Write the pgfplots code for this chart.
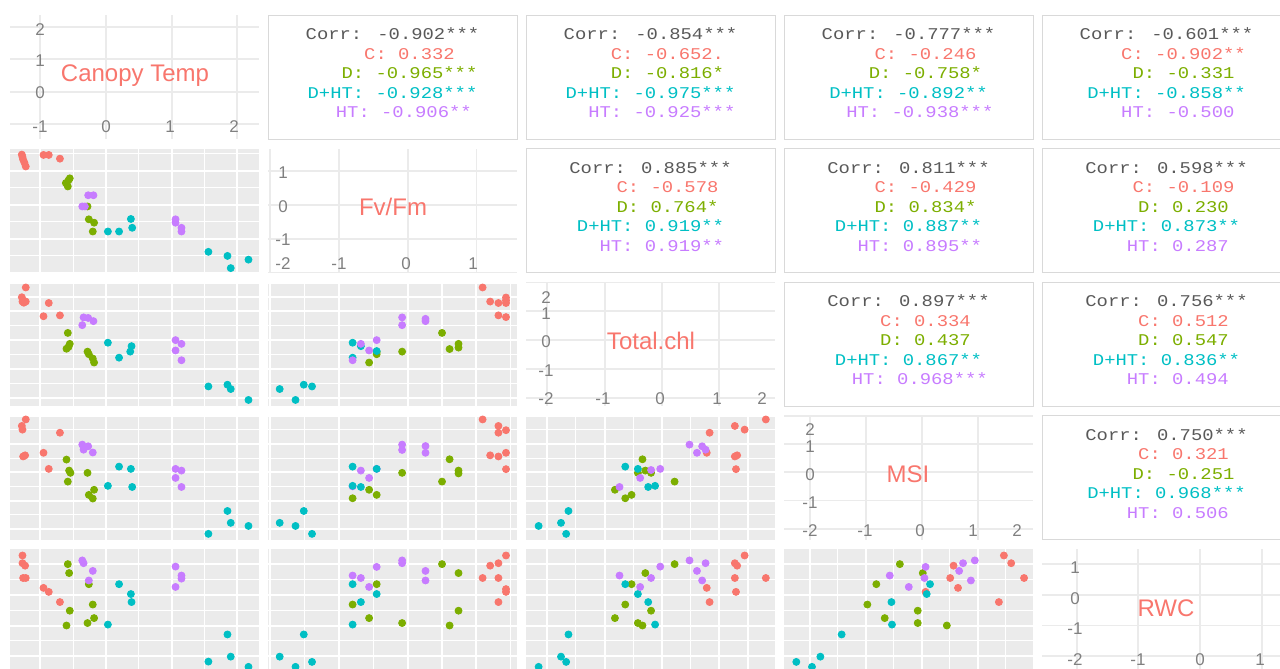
\documentclass[border=0pt]{standalone}
\usepackage{fontspec}
\setmainfont{Liberation Sans}
\newfontfamily\mono[FakeStretch=1.15]{Liberation Mono}
\usepackage{pgfplots}
\pgfplotsset{compat=1.18}
\definecolor{cC}{HTML}{F8766D}
\definecolor{cD}{HTML}{7CAE00}
\definecolor{cDHT}{HTML}{00BFC4}
\definecolor{cHT}{HTML}{C77CFF}
\definecolor{bg}{HTML}{EBEBEB}
\definecolor{dgrid}{HTML}{EBEBEB}
\definecolor{tickc}{HTML}{808080}
\definecolor{ctitle}{HTML}{595959}
\definecolor{cborder}{HTML}{D9D9D9}
\pgfplotsset{
  base/.style={scale only axis, width=124.5pt, height=62pt, anchor=north west,
    axis line style={draw=none}, tick style={draw=none},
    xticklabels={}, yticklabels={},
    xtick={-2,-1,0,1,2}, ytick={-2,-1,0,1,2}},
  sc/.style={base, axis background/.style={fill=bg}, grid=both,
    minor xtick={-2.5,-1.5,-0.5,0.5,1.5,2.5}, minor ytick={-2.5,-1.5,-0.5,0.5,1.5,2.5},
    major grid style={white, line width=1pt}, minor grid style={white, line width=0.55pt}},
  dg/.style={base, grid=major, major grid style={dgrid, line width=0.9pt}},
  pC/.style={only marks, mark=*, mark size=1.75pt, color=cC, mark options={fill=cC, draw=cC}},
  pD/.style={only marks, mark=*, mark size=1.75pt, color=cD, mark options={fill=cD, draw=cD}},
  pDHT/.style={only marks, mark=*, mark size=1.75pt, color=cDHT, mark options={fill=cDHT, draw=cDHT}},
  pHT/.style={only marks, mark=*, mark size=1.75pt, color=cHT, mark options={fill=cHT, draw=cHT}},
}
\tikzset{
  tk/.style={font=\fontsize{8.5}{10}\selectfont, text=tickc, anchor=base, inner sep=0pt},
  vl/.style={font=\fontsize{12}{14}\selectfont, text=cC, anchor=base, inner sep=0pt},
  ct/.style={font=\mono\fontsize{8.2}{10}\selectfont, anchor=base, inner sep=0pt},
}
% corr panel: #1 left px, #2 top px, #3 title value, #4 C, #5 D, #6 D+HT, #7 HT
\newcommand{\corrpanel}[7]{%
  \draw[cborder, line width=0.5pt] (#1,#2) rectangle ++(249,124);
  \node[ct, text=ctitle] at ({#1+124.5},{#2+18.5+6}) {Corr: #3};
  \node[ct, text=cC] at ({#1+124.5},{#2+38+6}) {\hphantom{xxx}C: #4};
  \node[ct, text=cD] at ({#1+124.5},{#2+57.5+6}) {\hphantom{xxx}D: #5};
  \node[ct, text=cDHT] at ({#1+124.5},{#2+77+6}) {D+HT: #6};
  \node[ct, text=cHT] at ({#1+124.5},{#2+96.5+6}) {\hphantom{xx}HT: #7};
}
\begin{document}
\begin{tikzpicture}
\path[use as bounding box] (0,0) rectangle (640pt,-334.5pt);

% ---------- diagonal panels ----------
\begin{axis}[dg, at={(5pt,-7.5pt)}, xmin=-1.46, xmax=2.33, ymin=-1.46, ymax=2.36]
\end{axis}
\begin{axis}[dg, at={(134pt,-74.25pt)}, xmin=-2.03, xmax=1.59, ymin=-2.0, ymax=1.66]
\end{axis}
\begin{axis}[dg, at={(263pt,-141pt)}, xmin=-2.37, xmax=1.97, ymin=-2.29, ymax=2.02]
\end{axis}
\begin{axis}[dg, at={(392pt,-207.75pt)}, xmin=-2.46, xmax=1.99, ymin=-2.38, ymax=2.01]
\end{axis}
\begin{axis}[dg, at={(521pt,-274.5pt)}, xmin=-2.56, xmax=1.47, ymin=-2.54, ymax=1.48]
\end{axis}

% ---------- scatter panels ----------
% Fv/Fm vs Canopy Temp
\begin{axis}[sc, at={(5pt,-74.25pt)}, xmin=-1.46, xmax=2.33, ymin=-2.0, ymax=1.66]
\addplot[pC] coordinates {(-1.28,1.48)(-1.27,1.41)(-1.26,1.33)(-1.24,1.24)(-1.22,1.13)(-0.95,1.47)(-0.87,1.47)(-0.70,1.36)};
\addplot[pD] coordinates {(-0.55,0.78)(-0.57,0.72)(-0.61,0.64)(-0.58,0.54)(-0.28,-0.05)(-0.26,-0.43)(-0.18,-0.53)(-0.20,-0.79)};
\addplot[pDHT] coordinates {(0.03,-0.79)(0.20,-0.79)(0.38,-0.42)(0.40,-0.68)(1.56,-1.39)(1.85,-1.51)(1.90,-1.87)(2.17,-1.62)};
\addplot[pHT] coordinates {(-0.27,0.28)(-0.19,0.28)(-0.36,-0.05)(-0.32,-0.05)(1.06,-0.43)(1.06,-0.53)(1.15,-0.68)(1.15,-0.79)};
\end{axis}
% Total.chl vs Canopy Temp
\begin{axis}[sc, at={(5pt,-141pt)}, xmin=-1.46, xmax=2.33, ymin=-2.29, ymax=2.02]
\addplot[pC] coordinates {(-1.22,1.83)(-1.28,1.49)(-1.27,1.34)(-1.25,1.30)(-1.22,1.34)(-0.87,1.29)(-0.95,0.83)(-0.70,0.86)};
\addplot[pD] coordinates {(-0.58,0.25)(-0.55,-0.13)(-0.60,-0.30)(-0.57,-0.24)(-0.28,-0.40)(-0.26,-0.49)(-0.20,-0.64)(-0.18,-0.78)};
\addplot[pDHT] coordinates {(0.03,-0.09)(0.20,-0.61)(0.39,-0.21)(0.37,-0.40)(1.56,-1.61)(1.85,-1.55)(1.90,-1.70)(2.17,-2.08)};
\addplot[pHT] coordinates {(-0.34,0.79)(-0.27,0.77)(-0.19,0.66)(-0.36,0.52)(1.06,0)(1.15,-0.13)(1.06,-0.36)(1.15,-0.70)};
\end{axis}
% MSI vs Canopy Temp
\begin{axis}[sc, at={(5pt,-207.75pt)}, xmin=-1.46, xmax=2.33, ymin=-2.38, ymax=2.01]
\addplot[pC] coordinates {(-1.22,1.87)(-1.28,1.64)(-1.27,1.51)(-0.70,1.40)(-1.26,0.56)(-1.23,0.60)(-0.95,0.69)(-0.87,0.12)};
\addplot[pD] coordinates {(-0.60,0.45)(-0.56,0.06)(-0.54,-0.02)(-0.28,-0.02)(-0.58,-0.33)(-0.18,-0.62)(-0.26,-0.80)(-0.20,-0.93)};
\addplot[pDHT] coordinates {(0.20,0.20)(0.38,0.12)(0.03,-0.48)(0.40,-0.52)(1.85,-1.37)(1.90,-1.79)(2.17,-1.90)(1.56,-2.18)};
\addplot[pHT] coordinates {(-0.36,0.98)(-0.27,0.92)(-0.34,0.80)(-0.20,0.70)(1.06,0.12)(1.15,0.06)(1.06,-0.20)(1.15,-0.52)};
\end{axis}
% RWC vs Canopy Temp
\begin{axis}[sc, at={(5pt,-274.5pt)}, xmin=-1.46, xmax=2.33, ymin=-2.54, ymax=1.48]
\addplot[pC] coordinates {(-1.27,1.27)(-1.27,1.02)(-1.23,0.94)(-1.26,0.54)(-1.22,0.54)(-0.95,0.22)(-0.87,0.09)(-0.70,-0.24)};
\addplot[pD] coordinates {(-0.58,0.99)(-0.56,0.70)(-0.26,0.34)(-0.20,-0.32)(-0.55,-0.52)(-0.18,-0.76)(-0.28,-0.92)(-0.60,-1.00)};
\addplot[pDHT] coordinates {(0.20,0.34)(0.38,0.02)(0.39,-0.24)(0.03,-0.97)(1.85,-1.29)(1.90,-2.01)(1.56,-2.17)(2.17,-2.34)};
\addplot[pHT] coordinates {(-0.36,1.11)(-0.34,1.02)(-0.20,0.77)(-0.26,0.46)(1.06,0.91)(1.15,0.62)(1.15,0.52)(1.06,0.25)};
\end{axis}
% Total.chl vs Fv/Fm
\begin{axis}[sc, at={(134pt,-141pt)}, xmin=-2.03, xmax=1.59, ymin=-2.29, ymax=2.02]
\addplot[pC] coordinates {(1.09,1.83)(1.20,1.34)(1.32,1.29)(1.43,1.48)(1.43,1.29)(1.32,0.86)(1.43,0.80)(1.43,1.38)};
\addplot[pD] coordinates {(0.50,0.25)(0.61,-0.31)(0.74,-0.13)(0.74,-0.26)(-0.08,-0.40)(-0.45,-0.41)(-0.45,-0.49)(-0.56,-0.78)};
\addplot[pDHT] coordinates {(-0.80,-0.09)(-0.68,-0.21)(-0.45,-0.38)(-0.80,-0.61)(-1.86,-1.70)(-1.51,-1.55)(-1.39,-1.61)(-1.63,-2.08)};
\addplot[pHT] coordinates {(-0.08,0.79)(-0.08,0.52)(0.26,0.74)(0.26,0.66)(-0.45,0)(-0.68,-0.13)(-0.56,-0.36)(-0.80,-0.70)};
\end{axis}
% MSI vs Fv/Fm
\begin{axis}[sc, at={(134pt,-207.75pt)}, xmin=-2.03, xmax=1.59, ymin=-2.38, ymax=2.01]
\addplot[pC] coordinates {(1.09,1.87)(1.32,1.64)(1.32,1.40)(1.43,1.49)(1.20,0.60)(1.32,0.56)(1.43,0.69)(1.43,0.11)};
\addplot[pD] coordinates {(0.61,0.46)(-0.08,-0.02)(0.74,0.06)(0.74,-0.04)(0.50,-0.33)(-0.56,-0.62)(-0.80,-0.92)(-0.45,-0.80)};
\addplot[pHT] coordinates {(-0.08,0.98)(-0.08,0.79)(0.26,0.93)(0.26,0.69)(-0.68,0.06)(-0.56,-0.20)(-0.80,-0.50)(-0.45,0.12)};
\addplot[pDHT] coordinates {(-0.80,0.20)(-0.45,0.12)(-0.80,-0.48)(-0.68,-0.52)(-1.51,-1.37)(-1.86,-1.79)(-1.63,-1.90)(-1.39,-2.18)};
\end{axis}
% RWC vs Fv/Fm
\begin{axis}[sc, at={(134pt,-274.5pt)}, xmin=-2.03, xmax=1.59, ymin=-2.54, ymax=1.48]
\addplot[pC] coordinates {(1.43,1.27)(1.20,0.94)(1.32,1.02)(1.09,0.54)(1.32,0.54)(1.43,0.18)(1.43,0.09)(1.32,-0.24)};
\addplot[pD] coordinates {(0.50,0.99)(0.74,0.70)(-0.45,0.34)(-0.80,-0.32)(0.74,-0.52)(-0.56,-0.76)(-0.08,-0.92)(0.61,-1.00)};
\addplot[pDHT] coordinates {(-0.80,0.34)(-0.45,0.02)(-0.68,-0.24)(-0.80,-0.97)(-1.51,-1.29)(-1.86,-2.01)(-1.39,-2.18)(-1.63,-2.34)};
\addplot[pHT] coordinates {(-0.08,1.11)(-0.08,1.02)(-0.45,0.90)(-0.80,0.62)(-0.68,0.54)(0.26,0.77)(0.26,0.46)(-0.56,0.25)};
\end{axis}
% MSI vs Total.chl
\begin{axis}[sc, at={(263pt,-207.75pt)}, xmin=-2.37, xmax=1.97, ymin=-2.38, ymax=2.01]
\addplot[pC] coordinates {(1.81,1.87)(1.27,1.64)(1.44,1.51)(0.83,1.40)(0.78,0.69)(1.27,0.56)(1.31,0.60)(1.29,0.11)};
\addplot[pD] coordinates {(-0.34,0.46)(-0.29,0.06)(-0.42,-0.02)(-0.19,-0.02)(0.22,-0.33)(-0.82,-0.62)(-0.64,-0.92)(-0.53,-0.80)};
\addplot[pDHT] coordinates {(-0.64,0.20)(-0.42,0.12)(-0.24,-0.52)(-0.12,-0.48)(-1.63,-1.37)(-1.76,-1.79)(-2.15,-1.90)(-1.67,-2.18)};
\addplot[pHT] coordinates {(0.48,0.98)(0.70,0.92)(0.76,0.80)(0.61,0.69)(-0.19,0.08)(-0.03,0.12)(-0.38,-0.20)(-0.74,-0.52)};
\end{axis}
% RWC vs Total.chl
\begin{axis}[sc, at={(263pt,-274.5pt)}, xmin=-2.37, xmax=1.97, ymin=-2.54, ymax=1.48]
\addplot[pC] coordinates {(1.44,1.27)(1.27,1.02)(1.31,0.94)(1.27,0.54)(1.81,0.54)(0.78,0.22)(1.29,0.09)(0.83,-0.24)};
\addplot[pD] coordinates {(0.22,0.99)(-0.29,0.70)(-0.53,0.34)(-0.64,-0.32)(-0.19,-0.52)(-0.82,-0.76)(-0.42,-0.92)(-0.34,-1.00)};
\addplot[pDHT] coordinates {(-0.64,0.34)(-0.42,0.02)(-0.24,-0.24)(-0.12,-0.97)(-1.63,-1.29)(-1.76,-2.01)(-1.67,-2.18)(-2.15,-2.34)};
\addplot[pHT] coordinates {(0.48,1.11)(-0.03,0.91)(0.76,1.02)(0.61,0.77)(-0.74,0.62)(-0.19,0.54)(0.70,0.46)(-0.38,0.25)};
\end{axis}
% RWC vs MSI
\begin{axis}[sc, at={(392pt,-274.5pt)}, xmin=-2.46, xmax=1.99, ymin=-2.54, ymax=1.48]
\addplot[pC] coordinates {(1.47,1.27)(1.60,1.02)(0.57,0.94)(0.51,0.54)(1.83,0.54)(0.65,0.22)(0.07,0.09)(1.38,-0.24)};
\addplot[pD] coordinates {(-0.39,0.99)(0.02,0.70)(-0.81,0.34)(-0.97,-0.32)(-0.07,-0.52)(-0.66,-0.76)(-0.07,-0.92)(0.45,-1.00)};
\addplot[pDHT] coordinates {(0.15,0.34)(0.09,0.02)(-0.54,-0.24)(-0.53,-0.97)(-1.43,-1.29)(-1.81,-2.01)(-2.24,-2.18)(-1.96,-2.34)};
\addplot[pHT] coordinates {(0.07,0.90)(0.74,1.02)(0.95,1.11)(0.67,0.77)(-0.57,0.62)(0.05,0.54)(0.88,0.46)(-0.23,0.25)};
\end{axis}

% ---------- texts (pixel coordinates) ----------
\begin{scope}[x=0.5pt, y=-0.5pt]
% variable labels
\node[vl] at (135,81.6) {Canopy Temp};
\node[vl] at (393,215.6) {Fv/Fm};
\node[vl] at (651,349.6) {Total.chl};
\node[vl] at (908,482.6) {MSI};
\node[vl] at (1166,616.6) {RWC};
% diag 1 tick labels
\node[tk] at (40,35) {2};\node[tk] at (40,66) {1};\node[tk] at (40,98) {0};\node[tk] at (40,132) {-1};
\node[tk] at (106,132) {0};\node[tk] at (170,132) {1};\node[tk] at (234,132) {2};
% diag 2
\node[tk] at (283,178) {1};\node[tk] at (283,212) {0};\node[tk] at (283,245) {-1};\node[tk] at (283,269) {-2};
\node[tk] at (339,269) {-1};\node[tk] at (406,269) {0};\node[tk] at (473,269) {1};
% diag 3
\node[tk] at (546,303) {2};\node[tk] at (546,319) {1};\node[tk] at (546,347) {0};\node[tk] at (546,376) {-1};\node[tk] at (546,404) {-2};
\node[tk] at (603,404) {-1};\node[tk] at (660,404) {0};\node[tk] at (717,404) {1};\node[tk] at (762,404) {2};
% diag 4
\node[tk] at (810,435) {2};\node[tk] at (810,452) {1};\node[tk] at (810,480) {0};\node[tk] at (810,508) {-1};\node[tk] at (810,536) {-2};
\node[tk] at (865,536) {-1};\node[tk] at (920,536) {0};\node[tk] at (973,536) {1};\node[tk] at (1017,536) {2};
% diag 5
\node[tk] at (1075,573) {1};\node[tk] at (1075,604) {0};\node[tk] at (1075,634) {-1};\node[tk] at (1075,665) {-2};
\node[tk] at (1138,665) {-1};\node[tk] at (1200,665) {0};\node[tk] at (1260,665) {1};
% correlation panels
\corrpanel{268}{15}{-0.902***}{0.332}{-0.965***}{-0.928***}{-0.906**}
\corrpanel{526}{15}{-0.854***}{-0.652.}{-0.816*}{-0.975***}{-0.925***}
\corrpanel{784}{15}{-0.777***}{-0.246}{-0.758*}{-0.892**}{-0.938***}
\corrpanel{1042}{15}{-0.601***}{-0.902**}{-0.331}{-0.858**}{-0.500}
\corrpanel{526}{148.5}{0.885***}{-0.578}{0.764*}{0.919**}{0.919**}
\corrpanel{784}{148.5}{0.811***}{-0.429}{0.834*}{0.887**}{0.895**}
\corrpanel{1042}{148.5}{0.598***}{-0.109}{0.230}{0.873**}{0.287}
\corrpanel{784}{282}{0.897***}{0.334}{0.437}{0.867**}{0.968***}
\corrpanel{1042}{282}{0.756***}{0.512}{0.547}{0.836**}{0.494}
\corrpanel{1042}{415.5}{0.750***}{0.321}{-0.251}{0.968***}{0.506}
\end{scope}
\end{tikzpicture}
\end{document}
